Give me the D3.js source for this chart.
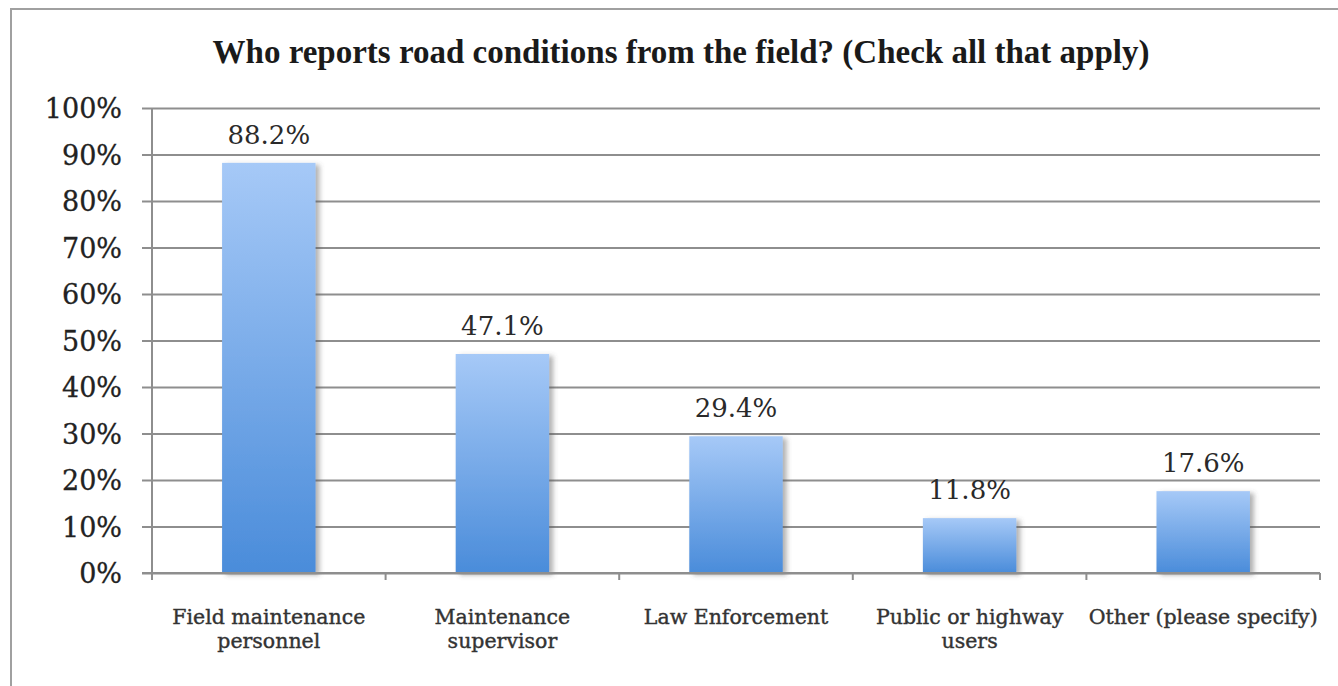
<!DOCTYPE html>
<html>
<head>
<meta charset="utf-8">
<script src="https://cdn.jsdelivr.net/npm/d3@7"></script>
<style>
  html, body { margin: 0; padding: 0; background: #fff; }
  svg { display: block; }
</style>
</head>
<body>
<svg id="chart" width="1338" height="686"></svg>
<script>
// Survey responses: who reports road conditions from the field
const categories = [
  ["Field maintenance", "personnel"],
  ["Maintenance", "supervisor"],
  ["Law Enforcement"],
  ["Public or highway", "users"],
  ["Other (please specify)"]
];
const values = [88.2, 47.1, 29.4, 11.8, 17.6];
const yTicks = [0, 10, 20, 30, 40, 50, 60, 70, 80, 90, 100];
const titleText = "Who reports road conditions from the field? (Check all that apply)";

const svg = d3.select("#chart");
const W = 1338, H = 686;
const margin = { top: 108, right: 18, bottom: 113, left: 152 };
const plotW = W - margin.left - margin.right;
const plotH = H - margin.top - margin.bottom;

const serif = "'DejaVu Serif', 'Liberation Serif', serif";

// Defs: vertical gradient for the bars and a soft shadow to their right
const defs = svg.append("defs");
const grad = defs.append("linearGradient")
  .attr("id", "barGrad").attr("x1", 0).attr("y1", 0).attr("x2", 0).attr("y2", 1);
grad.append("stop").attr("offset", "0%").attr("stop-color", "#a6c9f7");
grad.append("stop").attr("offset", "100%").attr("stop-color", "#4a8cda");

const shadow = defs.append("filter").attr("id", "barShadow")
  .attr("x", "-20%").attr("y", "-10%").attr("width", "150%").attr("height", "130%");
shadow.append("feDropShadow")
  .attr("dx", 4).attr("dy", 2).attr("stdDeviation", 2.5)
  .attr("flood-color", "#555").attr("flood-opacity", 0.45);

// Outer frame (left and top edges)
svg.append("path")
  .attr("d", `M11,${H} L11,9 L${W},9`)
  .attr("fill", "none").attr("stroke", "#a0a0a0").attr("stroke-width", 2);

// Title, fitted to its measured span
const title = svg.append("text")
  .attr("x", 681).attr("y", 63)
  .attr("text-anchor", "middle")
  .attr("font-family", "'Liberation Serif', 'DejaVu Serif', serif")
  .attr("font-weight", "bold")
  .attr("font-size", 29)
  .attr("fill", "#1a1a1a")
  .text(titleText);
const tLen = title.node().getComputedTextLength();
title.attr("font-size", 29 * 937 / tLen);

const g = svg.append("g").attr("transform", `translate(${margin.left},${margin.top})`);

const x = d3.scaleBand().domain(d3.range(categories.length)).range([0, plotW]).paddingInner(0.6).paddingOuter(0.3);
const y = d3.scaleLinear().domain([0, 100]).range([plotH, 0]);

// Horizontal gridlines with short outer ticks
const yAxis = d3.axisLeft(y).tickValues(yTicks).tickSize(-plotW).tickFormat(d => d + "%").tickPadding(30);
const yg = g.append("g").call(yAxis);
yg.select(".domain").remove();
yg.selectAll(".tick line")
  .attr("x1", -10).attr("stroke", "#8e8e8e").attr("stroke-width", 2);
yg.selectAll(".tick text")
  .attr("font-family", serif).attr("font-size", 27).attr("fill", "#222")
  .attr("stroke", "#222").attr("stroke-width", 0.3)
  .attr("dy", "0.36em");

// Vertical value axis line
g.append("line")
  .attr("x1", 0).attr("x2", 0).attr("y1", 0).attr("y2", plotH)
  .attr("stroke", "#8e8e8e").attr("stroke-width", 2);

// Category boundary ticks along the baseline
const step = plotW / categories.length;
const bounds = d3.range(categories.length + 1).map(i => i * step);
g.selectAll(".xtick").data(bounds).enter().append("line")
  .attr("x1", d => d).attr("x2", d => d)
  .attr("y1", plotH).attr("y2", plotH + 7)
  .attr("stroke", "#8e8e8e").attr("stroke-width", 2);

// Bars
g.selectAll(".bar").data(values).enter().append("rect")
  .attr("class", "bar")
  .attr("x", (d, i) => x(i))
  .attr("y", d => y(d))
  .attr("width", x.bandwidth())
  .attr("height", d => plotH - y(d))
  .attr("fill", "url(#barGrad)")
  .attr("filter", "url(#barShadow)");

// Baseline drawn above the bars
g.append("line")
  .attr("x1", -10).attr("x2", plotW).attr("y1", plotH).attr("y2", plotH)
  .attr("stroke", "#8e8e8e").attr("stroke-width", 2);

// Value labels
g.selectAll(".val").data(values).enter().append("text")
  .attr("x", (d, i) => x(i) + x.bandwidth() / 2)
  .attr("y", d => y(d) - 19)
  .attr("text-anchor", "middle")
  .attr("font-family", serif).attr("font-size", 26).attr("fill", "#2a2a2a")
  .text(d => d.toFixed(1) + "%");

// Category labels
const cl = g.selectAll(".cat").data(categories).enter().append("text")
  .attr("text-anchor", "middle")
  .attr("font-family", serif).attr("font-size", 20.5).attr("fill", "#333")
  .attr("stroke", "#333").attr("stroke-width", 0.4)
  .attr("transform", (d, i) => `translate(${x(i) + x.bandwidth() / 2},${plotH + 51})`);
cl.selectAll("tspan").data(d => d).enter().append("tspan")
  .attr("x", 0).attr("dy", (d, i) => i === 0 ? 0 : 24)
  .text(d => d);
</script>
</body>
</html>
